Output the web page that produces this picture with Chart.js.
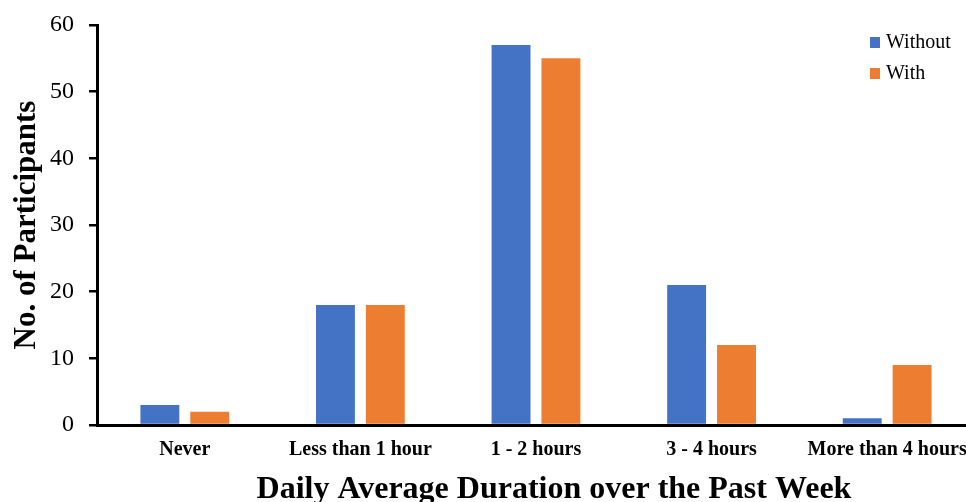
<!DOCTYPE html>
<html lang="en">
<head>
    <meta charset="UTF-8">
    <title>Daily Average Duration</title>
    <script src="https://cdn.jsdelivr.net/npm/chart.js"></script>
    <style>
        body {
            margin: 0;
            background: #fff;
            overflow: hidden;
        }
        #wrap {
            position: relative;
            width: 980px;
            height: 502px;
        }
        #legend {
            position: absolute;
            left: 870px;
            top: 26px;
            font-family: "Liberation Serif", serif;
            font-size: 20px;
            color: #000;
            line-height: 31px;
        }
        #legend span.box {
            display: inline-block;
            width: 10px;
            height: 11px;
            margin-right: 6px;
        }
    </style>
</head>
<body>
<div id="wrap">
    <canvas id="barChart" width="980" height="502"></canvas>
    <div id="legend"></div>
</div>
<script>
    const categories = ['Never', 'Less than 1 hour', '1 - 2 hours', '3 - 4 hours', 'More than 4 hours'];
    const seriesNames = ['Without', 'With'];
    const withoutValues = [3, 18, 57, 21, 1];
    const withValues = [2, 18, 55, 12, 9];
    const seriesColors = ['#4472C4', '#ED7D31'];
    const yTitle = 'No. of Participants';
    const xTitle = 'Daily Average Duration over the Past Week';

    const serif = '"Liberation Serif", "Times New Roman", serif';

    // x axis title sits a bit right of the plot centre in the original
    const xTitlePlugin = {
        id: 'xTitle',
        afterDraw(chart) {
            const ctx = chart.ctx;
            const area = chart.chartArea;
            ctx.save();
            ctx.font = 'bold 32px ' + serif;
            ctx.fillStyle = '#000';
            ctx.textAlign = 'center';
            ctx.textBaseline = 'alphabetic';
            ctx.fillText(xTitle, (area.left + area.right) / 2 + 18, 498);
            ctx.restore();
        }
    };

    const chart = new Chart(document.getElementById('barChart'), {
        type: 'bar',
        data: {
            labels: categories,
            datasets: [
                { label: seriesNames[0], data: withoutValues, backgroundColor: seriesColors[0] },
                { label: seriesNames[1], data: withValues, backgroundColor: seriesColors[1] }
            ]
        },
        options: {
            responsive: false,
            animation: false,
            categoryPercentage: 0.568,
            barPercentage: 0.78,
            layout: { padding: { top: 25, right: 3, left: 0, bottom: 0 } },
            plugins: {
                legend: { display: false },
                tooltip: { enabled: false }
            },
            scales: {
                x: {
                    grid: { display: false, drawTicks: false },
                    border: { color: '#000', width: 3 },
                    ticks: {
                        color: '#000',
                        font: { family: serif, size: 20, weight: 'bold' },
                        padding: 13,
                        maxRotation: 0,
                        autoSkip: false
                    },
                    afterFit(scale) { scale.height = 77; }
                },
                y: {
                    min: 0,
                    max: 60,
                    grid: { drawOnChartArea: false, drawTicks: true, tickLength: 8, color: '#000', lineWidth: 2.5 },
                    border: { color: '#000', width: 3 },
                    ticks: {
                        stepSize: 10,
                        color: '#000',
                        font: { family: serif, size: 24 },
                        padding: 15
                    },
                    title: {
                        display: true,
                        text: yTitle,
                        color: '#000',
                        font: { family: serif, size: 31, weight: 'bold' },
                        padding: { top: 8, bottom: 0 }
                    },
                    afterFit(scale) {
                        scale.width = 97;
                        // let layout padding alone decide where the plot starts
                        scale.paddingTop = 0;
                        scale.paddingBottom = 0;
                    }
                }
            }
        },
        plugins: [xTitlePlugin]
    });

    // vertical legend like the original, built from the datasets
    const legend = document.getElementById('legend');
    chart.data.datasets.forEach(ds => {
        const row = document.createElement('div');
        row.innerHTML = '<span class="box" style="background:' + ds.backgroundColor + '"></span>' + ds.label;
        legend.appendChild(row);
    });
</script>
</body>
</html>
